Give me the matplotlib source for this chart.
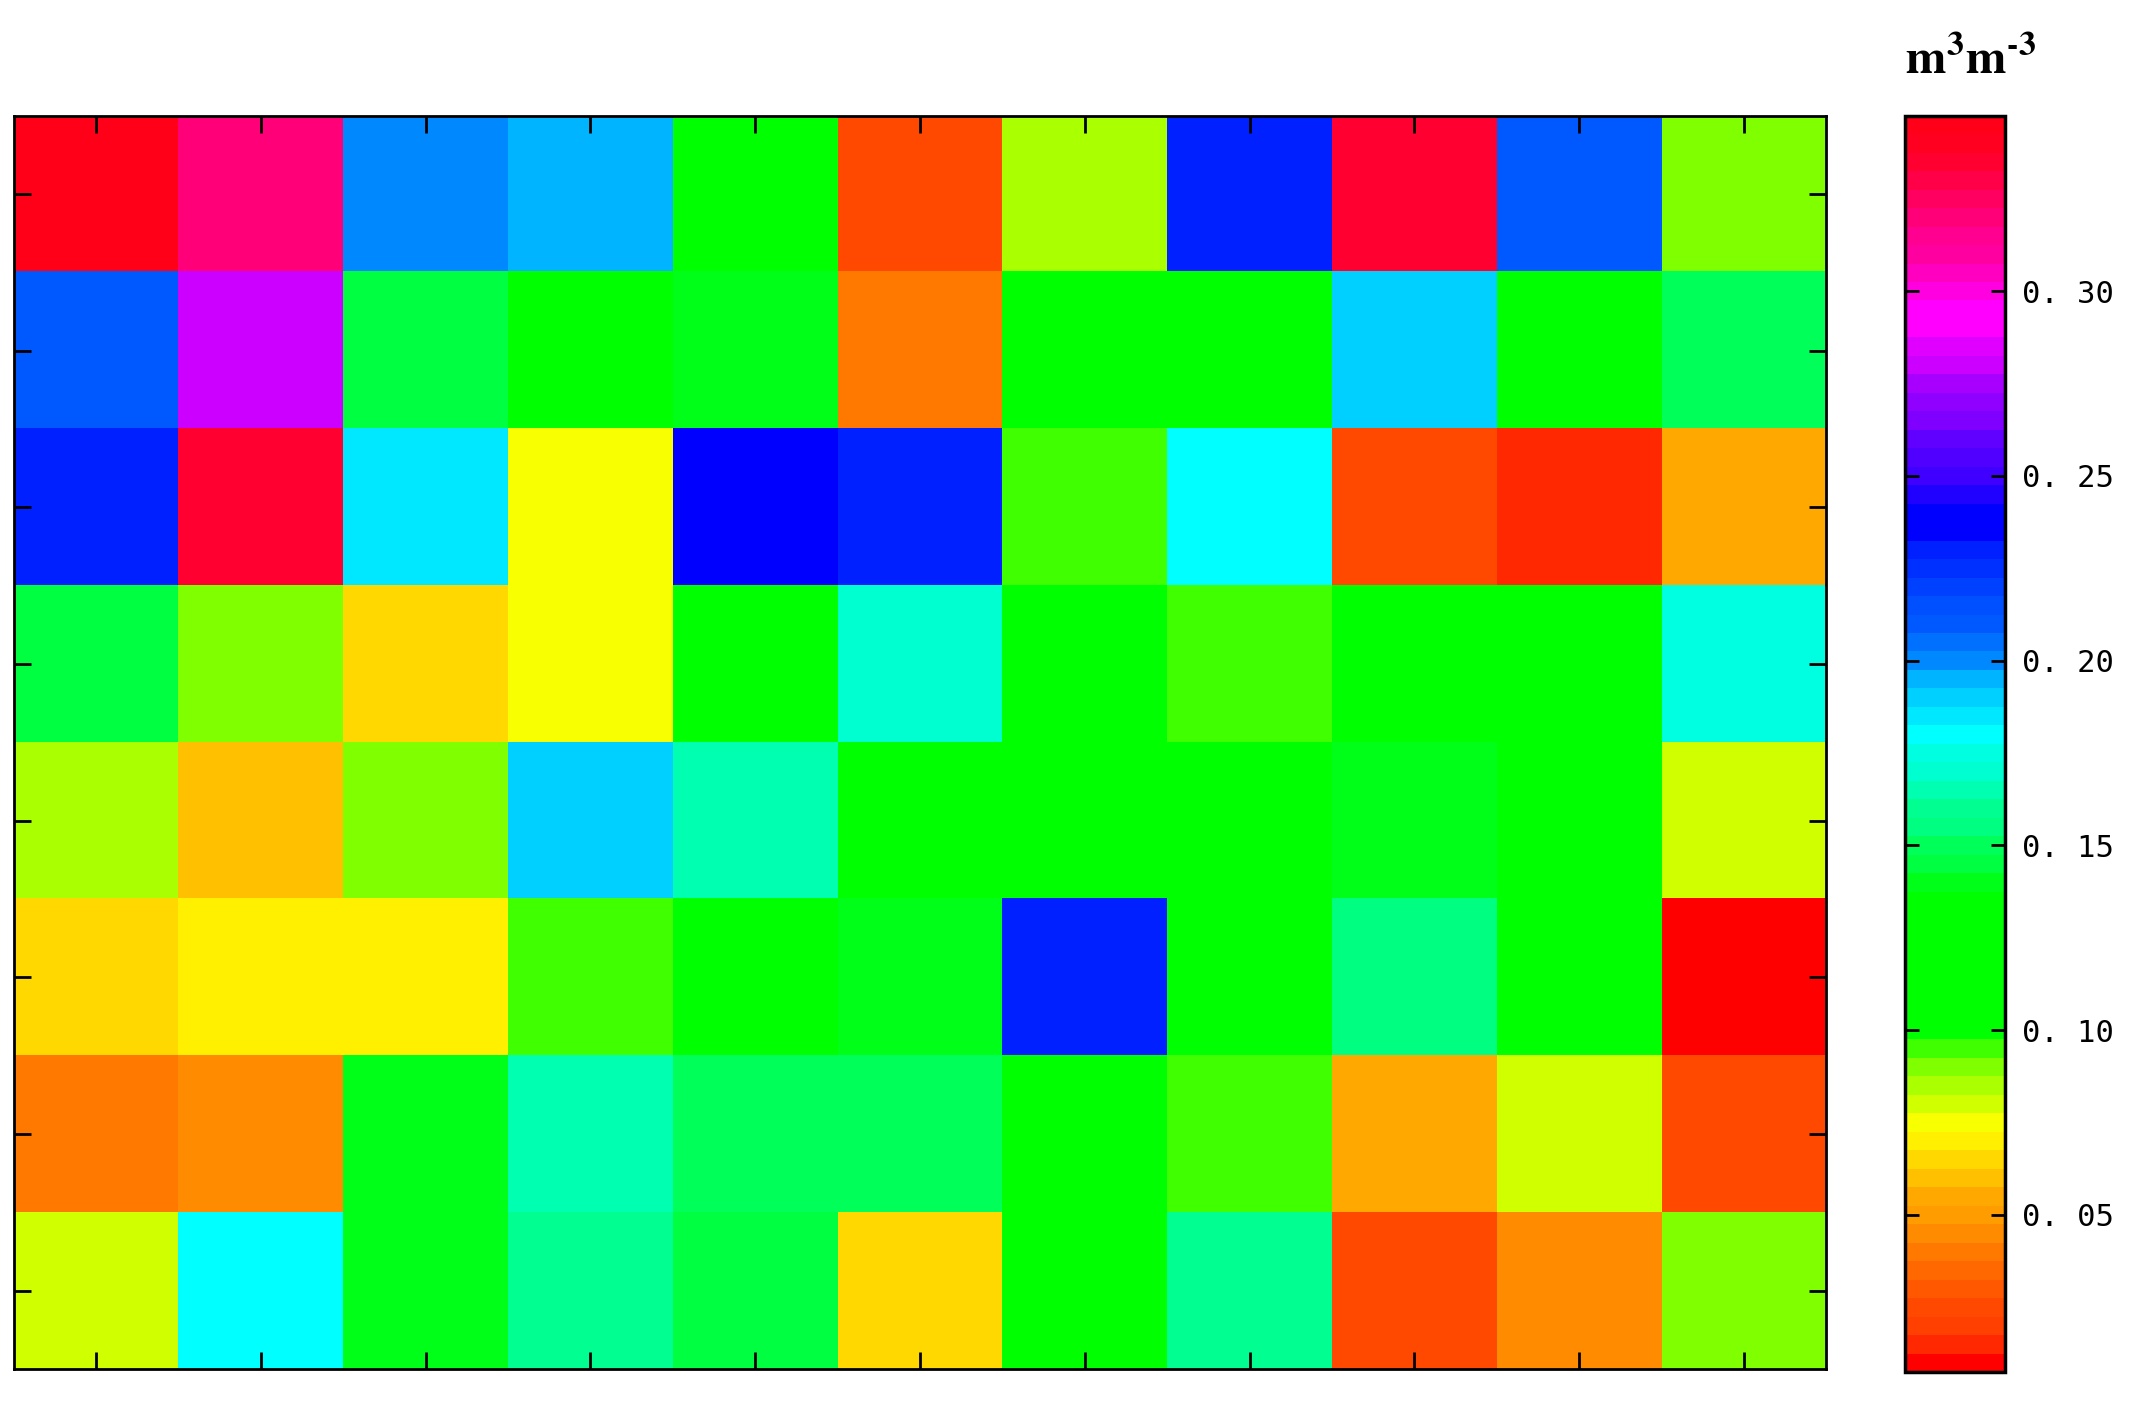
import numpy as np
import matplotlib
matplotlib.use("Agg")
import matplotlib.pyplot as plt
from matplotlib.colors import ListedColormap, BoundaryNorm

# Soil moisture values (m3 m-3), 8 rows x 11 columns
row0 = [0.345, 0.320, 0.200, 0.195, 0.115, 0.025, 0.085, 0.230, 0.335, 0.210, 0.090]
row1 = [0.210, 0.280, 0.145, 0.115, 0.140, 0.040, 0.115, 0.115, 0.190, 0.115, 0.150]
row2 = [0.230, 0.335, 0.185, 0.075, 0.240, 0.230, 0.095, 0.180, 0.025, 0.015, 0.055]
row3 = [0.145, 0.090, 0.065, 0.075, 0.115, 0.170, 0.115, 0.095, 0.115, 0.115, 0.175]
row4 = [0.085, 0.060, 0.090, 0.190, 0.165, 0.115, 0.115, 0.115, 0.140, 0.115, 0.080]
row5 = [0.065, 0.070, 0.070, 0.095, 0.115, 0.140, 0.230, 0.115, 0.155, 0.115, 0.010]
row6 = [0.040, 0.045, 0.140, 0.165, 0.150, 0.150, 0.115, 0.095, 0.055, 0.080, 0.025]
row7 = [0.080, 0.180, 0.140, 0.160, 0.145, 0.065, 0.115, 0.160, 0.025, 0.045, 0.090]

cbar_ticks = [0.05, 0.10, 0.15, 0.20, 0.25, 0.30]
cbar_ticklabels = ["0. 05", "0. 10", "0. 15", "0. 20", "0. 25", "0. 30"]
unit_label = "$\\mathbf{m^{3}m^{\u20103}}$"

vmin, vmax, step = 0.0075, 0.3475, 0.005

# colour of each 0.005-wide level, from low to high
level_colors = [
    "#FF0000", "#FF2800", "#FF4000", "#FF4800", "#FF5800", "#FF6800", "#FF7800",
    "#FF8C00", "#FF9C00", "#FFA800", "#FFC000", "#FFD800", "#FFF000", "#F8FF00",
    "#D0FF00", "#AAFF00", "#80FF00", "#40FF00", "#00FF00", "#00FF00", "#00FF00",
    "#00FF00", "#00FF00", "#00FF00", "#00FF00", "#00FF00", "#00FF18", "#00FF40",
    "#00FF58", "#00FF80", "#00FF90", "#00FFB0", "#00FFD0", "#00FFE0", "#00FFFF",
    "#00E8FF", "#00D0FF", "#00B4FF", "#0088FF", "#0070FF", "#0058FF", "#0050FF",
    "#0040FF", "#0030FF", "#0020FF", "#0000FF", "#0000FF", "#2000FF", "#4000FF",
    "#5000FF", "#6000FF", "#8000FF", "#9000FF", "#A800FF", "#CC00FF", "#E000FF",
    "#FF00FF", "#FF00FF", "#FF00E0", "#FF00C0", "#FF00A0", "#FF0090", "#FF0078",
    "#FF0060", "#FF0048", "#FF0030", "#FF0020", "#FF0018",
]

plt.rcParams["mathtext.fontset"] = "stix"

data = np.array([row0, row1, row2, row3, row4, row5, row6, row7])
nrows, ncols = data.shape

bounds = np.linspace(vmin, vmax, len(level_colors) + 1)
cmap = ListedColormap(level_colors)
norm = BoundaryNorm(bounds, cmap.N)

fig = plt.figure(figsize=(21.34, 14.01), dpi=100)
ax = fig.add_axes([0.0064, 0.0228, 0.8495, 0.8946])
im = ax.imshow(data, cmap=cmap, norm=norm, aspect="auto",
               interpolation="nearest", origin="upper",
               extent=(0, ncols, nrows, 0))
ax.set_xlim(0, ncols)
ax.set_ylim(nrows, 0)
ax.set_xticks(np.arange(ncols) + 0.5)
ax.set_yticks(np.arange(nrows) + 0.5)
ax.tick_params(axis="both", which="both", direction="in", length=12, width=2,
               top=True, bottom=True, left=True, right=True,
               labelbottom=False, labeltop=False, labelleft=False, labelright=False)
for sp in ax.spines.values():
    sp.set_linewidth(2)

cax = fig.add_axes([0.8929, 0.0207, 0.0466, 0.8967])
cb = fig.colorbar(im, cax=cax, boundaries=bounds, spacing="proportional")
cb.set_ticks(cbar_ticks)
cb.set_ticklabels(cbar_ticklabels)
cax.tick_params(direction="in", length=10, width=2, left=True, right=True,
                labelsize=22, pad=12)
cax.minorticks_off()
for lab in cax.get_yticklabels():
    lab.set_family("DejaVu Sans Mono")
cb.outline.set_linewidth(2.5)

fig.text(0.9235, 0.957, unit_label, ha="center", va="center", fontsize=35)

fig.savefig("out.png", dpi=100)
